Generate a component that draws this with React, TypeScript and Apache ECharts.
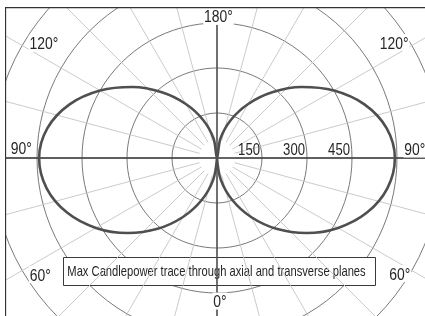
import React, { useEffect, useRef } from "react";
import * as echarts from "echarts";

// Candlepower trace (cd) read at every 10° (0° = down, 180° = up, clockwise through the left side)
const traceAngles = [
  0, 10, 20, 30, 40, 50, 60, 70, 80, 90, 100, 110, 120, 130, 140, 150, 160, 170, 180,
  190, 200, 210, 220, 230, 240, 250, 260, 270, 280, 290, 300, 310, 320, 330, 340, 350, 360,
];
const traceCandlepower = [
  0, 74, 149, 227, 308, 389, 466, 532, 577, 593, 574, 523, 450, 368, 286, 208, 135, 66, 0,
  66, 135, 208, 286, 368, 450, 523, 574, 593, 577, 532, 466, 389, 308, 227, 149, 74, 0,
];

// radial ticks
const radiusTicks = [150, 300, 450];
const radiusMax = 900;
const radiusStep = 150;

// spokes every 15°
const spokeAngles = [
  0, 15, 30, 45, 60, 75, 90, 105, 120, 135, 150, 165, 180, 195, 210, 225, 240, 255, 270, 285,
  300, 315, 330, 345,
];

// angle tick labels (values) and where they sit (radius, angle)
const angleLabelTexts = ["180°", "0°", "90°", "90°", "120°", "120°", "60°", "60°"];
const angleLabelPos: [number, number][] = [
  [472, 180.6],
  [477, 358.8],
  [653, 92.9],
  [660, 267.4],
  [692, 123.5],
  [705, 236.9],
  [706, 56.6],
  [721, 302.3],
];

const legendText = "Max Candlepower trace through axial and transverse planes";

const FONT = '"Liberation Sans", Arial, sans-serif';
const NARROW = 0.82;
const INK = "#262626";

export default function App() {
  const ref = useRef<HTMLDivElement>(null);
  useEffect(() => {
    if (!ref.current) return;
    const chart = echarts.init(ref.current, undefined, { renderer: "svg" });

    const spokeInner = 60;
    const spokeSeries = spokeAngles.map((a) => ({
      type: "line",
      coordinateSystem: "polar",
      data: [
        [spokeInner, a],
        [radiusMax, a],
      ],
      showSymbol: false,
      silent: true,
      lineStyle: { color: "#c4c4c4", width: 0.9 },
      z: 1,
    }));

    const option: any = {
      animation: false,
      textStyle: { fontFamily: FONT },
      polar: { center: [212, 151], radius: 270 },
      angleAxis: {
        type: "value",
        min: 0,
        max: 360,
        interval: 15,
        startAngle: 270,
        clockwise: true,
        axisLine: { show: false },
        axisTick: { show: false },
        axisLabel: { show: false },
        splitLine: { show: false },
      },
      radiusAxis: {
        type: "value",
        min: 0,
        max: radiusMax,
        interval: radiusStep,
        axisLine: { show: false },
        axisTick: { show: false },
        axisLabel: { show: false },
        splitLine: { show: true, lineStyle: { color: "#6a6a6a", width: 0.9 } },
      },
      series: [
        ...spokeSeries,
        {
          type: "line",
          coordinateSystem: "polar",
          data: [
            [radiusMax, 0],
            [0, 0],
            [radiusMax, 180],
          ],
          showSymbol: false,
          silent: true,
          lineStyle: { color: "#333333", width: 1.3 },
          z: 3,
        },
        {
          type: "line",
          coordinateSystem: "polar",
          data: [
            [radiusMax, 90],
            [0, 90],
            [radiusMax, 270],
          ],
          showSymbol: false,
          silent: true,
          lineStyle: { color: "#333333", width: 1.3 },
          z: 3,
        },
        {
          type: "line",
          coordinateSystem: "polar",
          data: traceAngles.map((a, i) => [traceCandlepower[i], a]),
          smooth: 0.35,
          showSymbol: false,
          lineStyle: { color: "#4f4f4f", width: 2.6 },
          z: 5,
        },
      ],
    };
    chart.setOption(option);

    const traceIdx = spokeSeries.length + 2;
    const toPx = (r: number, a: number) =>
      chart.convertToPixel({ seriesIndex: traceIdx }, [r, a]) as number[];

    const labelGraphics: any[] = [];
    angleLabelPos.forEach((p, i) => {
      const pt = toPx(p[0], p[1]);
      labelGraphics.push({
        type: "text",
        z: 100,
        x: pt[0],
        y: pt[1],
        scaleX: NARROW,
        style: {
          text: angleLabelTexts[i],
          fontFamily: FONT,
          fontSize: 17,
          fill: INK,
          align: "center",
          verticalAlign: "middle",
          backgroundColor: "#ffffff",
          padding: [0, 1],
        },
      });
    });
    radiusTicks.forEach((r) => {
      const pt = toPx(r, 270);
      labelGraphics.push({
        type: "text",
        z: 100,
        x: pt[0] - 2,
        y: pt[1] - 8,
        scaleX: NARROW,
        style: {
          text: String(r),
          fontFamily: FONT,
          fontSize: 16,
          fill: INK,
          align: "right",
          verticalAlign: "middle",
        },
      });
    });

    chart.setOption({
      graphic: [
        ...labelGraphics,
        {
          type: "group",
          z: 100,
          children: [
            {
              type: "rect",
              shape: { x: 58.5, y: 250.5, width: 312, height: 28 },
              style: { fill: "#ffffff", stroke: "#3a3a3a", lineWidth: 1 },
            },
            {
              type: "text",
              x: 211.5,
              y: 264.5,
              scaleX: 0.8,
              style: {
                text: legendText,
                fontFamily: FONT,
                fontSize: 14,
                fill: INK,
                align: "center",
                verticalAlign: "middle",
              },
            },
          ],
        },
        {
          type: "line",
          z: 100,
          shape: { x1: 0, y1: 0.5, x2: 420, y2: 0.5 },
          style: { stroke: "#333333", lineWidth: 1.3 },
        },
        {
          type: "line",
          z: 100,
          shape: { x1: 0.5, y1: 0, x2: 0.5, y2: 309 },
          style: { stroke: "#333333", lineWidth: 1.3 },
        },
      ],
    });
    return () => chart.dispose();
  }, []);

  return (
    <div
      ref={ref}
      style={{ position: "fixed", left: 5, top: 7, width: 420, height: 309 }}
    />
  );
}
